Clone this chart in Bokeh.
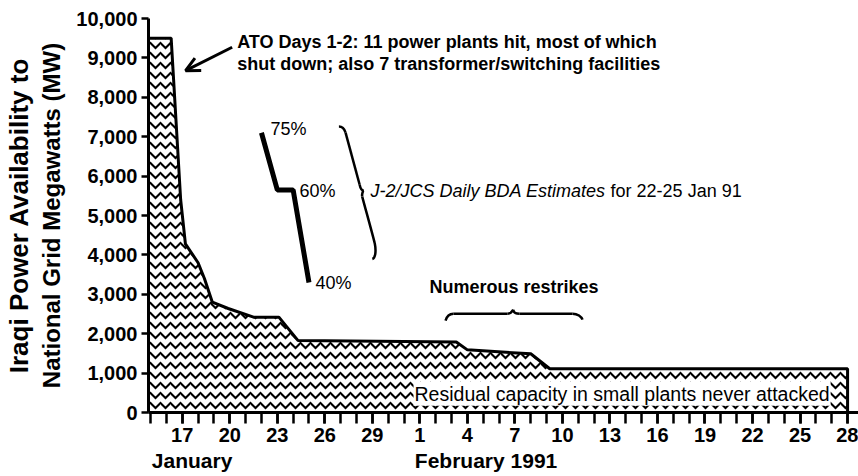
import math
from bokeh.plotting import figure
from bokeh.models import Range1d, FixedTicker, NumeralTickFormatter, Label, Arrow, OpenHead, LinearAxis
from bokeh.embed import file_html
from bokeh.resources import INLINE

# ---- data (x = day of year 1991: Jan 17 = 17, Feb 1 = 32) ----
days = [14, 16.3, 16.9, 17.2, 18.0, 18.4, 18.9, 19.9, 21.5, 23.1, 24.3, 34.3, 35.0, 39.0, 40.2, 59]
mw = [9500, 9500, 5400, 4280, 3800, 3400, 2800, 2640, 2420, 2420, 1830, 1790, 1590, 1490, 1110, 1110]

# J-2/JCS daily BDA estimates, 22-25 Jan
bda_days = [22, 23, 24, 25]
bda_mw = [7100, 5650, 5650, 3300]
bda_labels = ["75%", "60%", "40%"]

major_days = [17, 20, 23, 26, 29, 32, 35, 38, 41, 44, 47, 50, 53, 56, 59]
minor_days = list(range(15, 60))
y_ticks = list(range(0, 10001, 1000))
month_pos = [17.62, 36.18]
month_names = ["January", "February 1991"]

FONT = "Liberation Sans"

p = figure(width=858, height=476, output_backend="svg", toolbar_location=None,
           x_range=Range1d(14.87, 59.69), y_range=Range1d(0, 10000),
           min_border_left=148, min_border_right=0, min_border_top=18, min_border_bottom=64)
p.outline_line_color = None
p.grid.grid_line_color = None
p.background_fill_color = "white"
p.border_fill_color = "white"

# area with wavy hatch
px = days + [days[-1], days[0]]
py = mw + [0, 0]
p.patch(px, py, fill_color="white", line_color="black", line_width=3,
        hatch_pattern="horizontal_wave", hatch_color="black", hatch_weight=2, hatch_scale=10)

# BDA estimate line
p.line(bda_days, bda_mw, line_width=5, line_color="black")

# x axis (days)
xa = p.xaxis[0]
xa.ticker = FixedTicker(ticks=major_days, minor_ticks=minor_days)
xa.major_label_overrides = {d: str(d if d <= 31 else d - 31) for d in major_days}
xa.axis_line_width = 3
xa.major_tick_line_width = 2.5
xa.minor_tick_line_width = 2.5
xa.major_tick_out = 11
xa.major_tick_in = 0
xa.minor_tick_out = 11
xa.minor_tick_in = 0
xa.major_label_standoff = 4
xa.major_label_text_font = FONT
xa.major_label_text_font_style = "bold"
xa.major_label_text_font_size = "20px"
xa.major_label_text_color = "black"

# month axis
mx = LinearAxis(ticker=FixedTicker(ticks=month_pos, minor_ticks=[]),
                major_label_overrides=dict(zip(month_pos, month_names)))
mx.axis_line_color = None
mx.major_tick_line_color = None
mx.minor_tick_line_color = None
mx.major_tick_out = 0
mx.major_tick_in = 0
mx.minor_tick_out = 0
mx.major_label_standoff = 4
mx.major_label_text_font = FONT
mx.major_label_text_font_style = "bold"
mx.major_label_text_font_size = "21px"
mx.major_label_text_color = "black"
p.add_layout(mx, "below")

# y axis
ya = p.yaxis[0]
ya.ticker = FixedTicker(ticks=y_ticks)
ya.formatter = NumeralTickFormatter(format="0,0")
ya.axis_line_width = 3
ya.major_tick_line_width = 2.5
ya.major_tick_out = 7
ya.major_tick_in = 0
ya.minor_tick_line_color = None
ya.major_label_standoff = 4
ya.major_label_text_font = FONT
ya.major_label_text_font_style = "bold"
ya.major_label_text_font_size = "20px"
ya.major_label_text_color = "black"
ya.axis_label = "National Grid Megawatts (MW)"
ya.axis_label_standoff = 8
ya.axis_label_text_font = FONT
ya.axis_label_text_font_style = "bold"
ya.axis_label_text_font_size = "24px"
ya.axis_label_text_color = "black"

ty = LinearAxis(ticker=FixedTicker(ticks=[], minor_ticks=[]))
ty.axis_line_color = None
ty.major_tick_line_color = None
ty.minor_tick_line_color = None
ty.major_tick_out = 0
ty.minor_tick_out = 0
ty.major_label_text_font_size = "0px"
ty.axis_label = "Iraqi Power Availability to"
ty.axis_label_standoff = 2
ty.axis_label_text_font = FONT
ty.axis_label_text_font_style = "bold"
ty.axis_label_text_font_size = "26px"
ty.axis_label_text_color = "black"
p.add_layout(ty, "left")


def lab(x, y, text, size, style="normal", align="left", baseline="middle", angle=0, **kw):
    l = Label(x=x, y=y, text=text, text_font=FONT, text_font_size=size, text_font_style=style,
              text_align=align, text_baseline=baseline, angle=angle, text_color="black", **kw)
    p.add_layout(l)
    return l

# ATO annotation
lab(20.47, 9398, "ATO Days 1-2: 11 power plants hit, most of which", "18px", "bold")
lab(20.47, 8857, "shut down; also 7 transformer/switching facilities", "18px", "bold")
p.add_layout(Arrow(end=OpenHead(size=14, line_width=3, line_color="black"),
                   x_start=20.15, y_start=9271, x_end=17.21, y_end=8677,
                   line_width=3, line_color="black"))

# BDA labels
lab(22.57, 7206, bda_labels[0], "18px")
lab(24.40, 5631, bda_labels[1], "18px")
lab(25.41, 3294, bda_labels[2], "18px")

# vertical brace
vb_x0 = [26.89, 27.31, 28.20, 28.46, 28.36, 29.15]
vb_y0 = [7257, 7104, 5780, 5631, 5480, 4300]
vb_x1 = [27.31, 28.20, 28.46, 28.36, 29.15, 29.00]
vb_y1 = [7104, 5780, 5631, 5480, 4300, 3896]
vb_cx0 = [27.15, 27.60, 28.25, 28.40, 28.62, 29.25]
vb_cy0 = [7257, 6660, 5680, 5620, 5090, 4100]
vb_cx1 = [27.25, 27.90, 28.35, 28.33, 28.90, 29.20]
vb_cy1 = [7180, 6220, 5631, 5540, 4690, 3920]
p.bezier(x0=vb_x0, y0=vb_y0, x1=vb_x1, y1=vb_y1, cx0=vb_cx0, cy0=vb_cy0, cx1=vb_cx1, cy1=vb_cy1,
         line_width=2.5, line_color="black")

lab(28.89, 5631, "J-2/JCS Daily BDA Estimates", "18px", "italic")
lab(44.04, 5631, "for 22-25 Jan 91", "18px")

# numerous restrikes + horizontal brace
lab(37.94, 3175, "Numerous restrikes", "18px", "bold", "center")
hb_x0 = [33.62, 34.12, 37.53, 37.89, 38.29, 41.64]
hb_y0 = [2331, 2509, 2509, 2609, 2509, 2509]
hb_x1 = [34.12, 37.53, 37.89, 38.29, 41.64, 42.27]
hb_y1 = [2509, 2509, 2609, 2509, 2509, 2357]
hb_cx0 = [33.70, 35.0, 37.75, 37.95, 39.5, 41.95]
hb_cy0 = [2450, 2509, 2509, 2509, 2509, 2509]
hb_cx1 = [33.85, 36.8, 37.82, 38.10, 40.8, 42.20]
hb_cy1 = [2509, 2509, 2560, 2509, 2509, 2430]
p.bezier(x0=hb_x0, y0=hb_y0, x1=hb_x1, y1=hb_y1, cx0=hb_cx0, cy0=hb_cy0, cx1=hb_cx1, cy1=hb_cy1,
         line_width=2.5, line_color="black")

# residual capacity label
lab(31.6, 475, "Residual capacity in small plants never attacked", "19.5px",
    background_fill_color="white", background_fill_alpha=1.0, padding=1)

open("out.html", "w").write(file_html(p, INLINE))
